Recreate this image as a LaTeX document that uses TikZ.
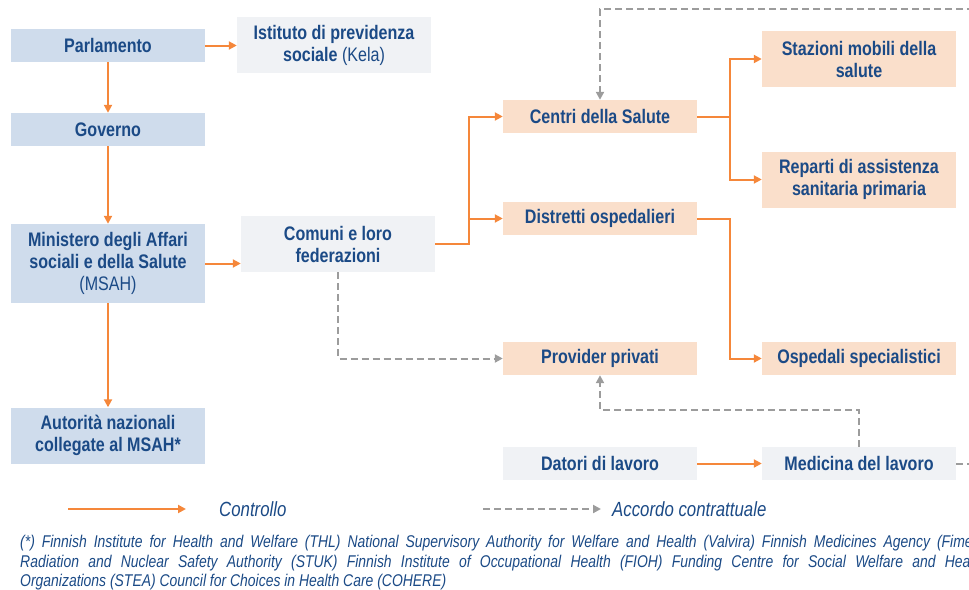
\documentclass[tikz,border=0pt]{standalone}
\usepackage{fontspec}
\setmainfont{Liberation Sans}[FakeStretch=0.82]
\usetikzlibrary{arrows.meta}
\definecolor{boxblue}{HTML}{CFDCEC}
\definecolor{boxgrey}{HTML}{F0F2F5}
\definecolor{boxpeach}{HTML}{FADFCB}
\definecolor{txtblue}{HTML}{1B4A86}
\definecolor{ctrlorange}{HTML}{F5873A}
\definecolor{contrgrey}{HTML}{9C9C9C}
\tikzset{
  box/.style={minimum width=194pt, minimum height=33pt, inner sep=0pt, align=center,
    text=txtblue, font=\fontsize{19.6}{22}\selectfont\bfseries},
  govbox/.style={box, fill=boxblue},
  locbox/.style={box, fill=boxgrey},
  srvbox/.style={box, fill=boxpeach},
  ctrl/.style={draw=ctrlorange, line width=2pt, -{Triangle[length=8pt,width=8pt]}},
  contrline/.style={draw=contrgrey, line width=2pt, dash pattern=on 7pt off 4pt},
  contr/.style={contrline, -{Triangle[length=8pt,width=8pt]}},
  legendtext/.style={anchor=west, inner sep=0pt, text=txtblue, font=\fontsize{20.5}{24}\selectfont\itshape},
}
% one justified footnote line of fixed width
\newcommand{\noteline}[1]{\hbox to 965pt{#1}}
\begin{document}
\begin{tikzpicture}[x=1pt, y=-1pt]
\useasboundingbox (0,0) rectangle (969,589);
\clip (0,0) rectangle (969,589);

% national level
\node[govbox] (par) at (108,45.5) {Parlamento};
\node[locbox, minimum height=56pt] (kela) at (334,45) {Istituto di previdenza\\sociale \mdseries(Kela)};
\node[govbox] (gov) at (108,129.5) {Governo};
\node[govbox, minimum height=79pt] (msah) at (108,263.5) {Ministero degli Affari\\sociali e della Salute\\\mdseries(MSAH)};
\node[govbox, minimum height=56pt] (aut) at (108,435.5) {Autorità nazionali\\collegate al MSAH*};

% local level and services
\node[locbox, minimum height=56pt] (com) at (338,244) {Comuni e loro\\federazioni};
\node[srvbox] (cen) at (600,116.5) {Centri della Salute};
\node[srvbox] (dis) at (600,218.5) {Distretti ospedalieri};
\node[srvbox] (pro) at (600,358.5) {Provider privati};
\node[locbox] (dat) at (600,463.5) {Datori di lavoro};
\node[srvbox, minimum height=56pt] (sta) at (859,59) {Stazioni mobili della\\salute};
\node[srvbox, minimum height=56pt] (rep) at (859,179.5) {Reparti di assistenza\\sanitaria primaria};
\node[srvbox] (osp) at (859,358.5) {Ospedali specialistici};
\node[locbox] (med) at (859,463.5) {Medicina del lavoro};

% control relations
\draw[ctrl] (par.east) -- (kela.west |- par.east);
\draw[ctrl] (par.south) -- (gov.north);
\draw[ctrl] (gov.south) -- (msah.north);
\draw[ctrl] (msah.south) -- (aut.north);
\draw[ctrl] (msah.east) -- (com.west |- msah.east);
\coordinate (j1) at (469,244);
\draw[ctrl] (com.east) -- (j1) |- (cen.west);
\draw[ctrl] (j1) |- (dis.west);
\coordinate (j2) at (730,116.5);
\draw[ctrl] (cen.east) -- (j2) |- (sta.west);
\draw[ctrl] (j2) |- (rep.west);
\coordinate (j3) at (730,218.5);
\draw[ctrl] (dis.east) -- (j3) |- (osp.west);
\draw[ctrl] (dat.east) -- (med.west);

% contractual agreements
\coordinate (topR) at (985,9);
\draw[contr] (topR) -| (cen.north);
\draw[contr] (com.south) |- (pro.west);
\coordinate (medup) at (859,410);
\draw[contr] (med.north) -- (medup) -| (pro.south);
\coordinate (medR) at (985,463.5);
\draw[contrline] (med.east) -- (medR);

% legend
\coordinate (lc1) at (68,509);
\coordinate (lc2) at (186,509);
\draw[ctrl] (lc1) -- (lc2);
\node[legendtext] (lct) at (219,509) {Controllo};
\coordinate (la1) at (483,509);
\coordinate (la2) at (601,509);
\draw[contr] (la1) -- (la2);
\node[legendtext] (lat) at (612,509) {Accordo contrattuale};

% footnote
\node[anchor=north west, inner sep=0pt, align=left, text=txtblue,
  font=\fontsize{17}{19.5}\selectfont\itshape] (note) at (20,535)
  {\noteline{(*) Finnish Institute for Health and Welfare (THL) National Supervisory Authority for Welfare and Health (Valvira) Finnish Medicines Agency (Fimea)}\\
   \noteline{Radiation and Nuclear Safety Authority (STUK) Finnish Institute of Occupational Health (FIOH) Funding Centre for Social Welfare and Health}\\
   Organizations (STEA) Council for Choices in Health Care (COHERE)};
\end{tikzpicture}
\end{document}
